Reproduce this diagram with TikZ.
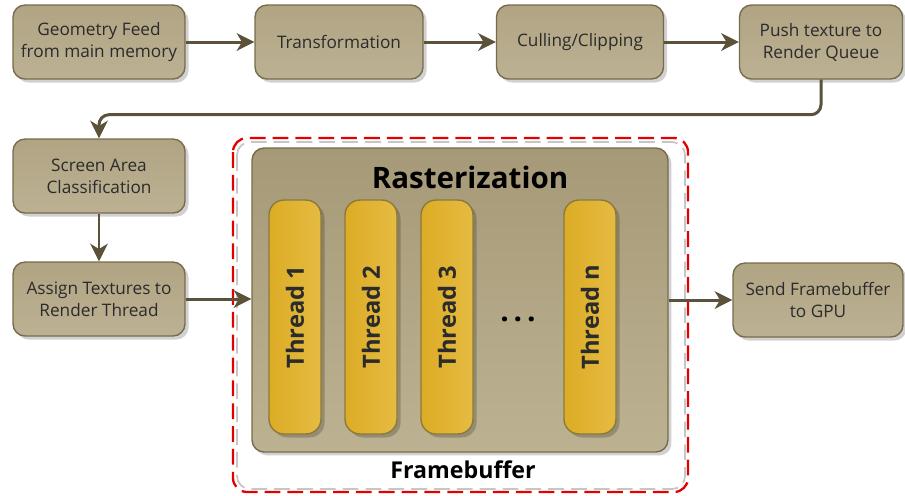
\documentclass[tikz,border=0pt]{standalone}
\usepackage{fontspec}
\setmainfont{Open Sans}
\usetikzlibrary{arrows.meta,positioning,shadows}
\definecolor{boxtop}{HTML}{B0A483}
\definecolor{boxbot}{HTML}{BCB193}
\definecolor{boxline}{HTML}{766B4C}
\definecolor{rastop}{HTML}{A69977}
\definecolor{rasbot}{HTML}{BCB292}
\definecolor{thrtop}{HTML}{DCAC25}
\definecolor{thrbot}{HTML}{E5BB42}
\definecolor{thrline}{HTML}{8C7A3C}
\definecolor{flowline}{HTML}{5B5239}
\definecolor{txt}{HTML}{2B2B2B}

\tikzset{
  stagebox/.style={draw=boxline,line width=0.8pt,rounded corners=0.24cm,
    top color=boxtop,bottom color=boxbot,text=txt,align=center,
    minimum width=3.44cm,minimum height=1.48cm,inner sep=1pt,
    font=\fontsize{9.8}{12.5}\selectfont,
    drop shadow={shadow xshift=2pt,shadow yshift=-2pt,fill=black,opacity=0.18}},
  threadbox/.style={draw=thrline,line width=0.8pt,rounded corners=0.3cm,
    left color=thrtop,right color=thrbot,text=txt,rotate=90,
    minimum width=4.68cm,minimum height=1.04cm,
    font=\fontsize{13.5}{16}\selectfont\bfseries,
    drop shadow={shadow xshift=2pt,shadow yshift=-2pt,fill=black,opacity=0.2}},
  flow/.style={draw=flowline,line width=1.7pt,-{Stealth[length=10pt,width=10pt,inset=3pt]}}
}

\begin{document}
\begin{tikzpicture}[x=0.02cm,y=-0.02cm]
  \useasboundingbox (0,0) rectangle (905,495);

  % top row
  \node[stagebox] (geo) at (99,42) {Geometry Feed\\from main memory};
  \node[stagebox,minimum width=3.36cm] (trans) at (339,42) {Transformation};
  \node[stagebox,minimum width=3.34cm] (cull) at (580,42) {Culling/Clipping};
  \node[stagebox,minimum width=3.26cm] (push) at (821,42) {Push texture to\\Render Queue};

  % left column
  \node[stagebox] (screen) at (99,176) {Screen Area\\Classification};
  \node[stagebox] (assign) at (99,299) {Assign Textures to\\Render Thread};
  \node[stagebox,minimum width=3.4cm] (send) at (818,300) {Send Framebuffer\\to GPU};

  % framebuffer outline
  \draw[gray!45,line width=1pt,dash pattern=on 9pt off 4pt,rounded corners=0.26cm]
    (237,142) rectangle (685,489);
  \draw[red!90!black,line width=1.3pt,dash pattern=on 9pt off 4pt,rounded corners=0.28cm]
    (233,138) rectangle (688,492);

  % rasterization block
  \node[draw=boxline,line width=0.8pt,rounded corners=0.24cm,
    top color=rastop,bottom color=rasbot,
    minimum width=8.32cm,minimum height=6.08cm,
    drop shadow={shadow xshift=2pt,shadow yshift=-2pt,fill=black,opacity=0.18}]
    (raster) at (460,300) {};
  \node[text=black,font=\fontsize{16.8}{19}\selectfont\bfseries] (rastitle) at (470,177) {Rasterization};

  \node[threadbox] (t1) at (295,317) {Thread 1};
  \node[threadbox] (t2) at (371,317) {Thread 2};
  \node[threadbox] (t3) at (447,317) {Thread 3};
  \node[threadbox] (tn) at (590,317) {Thread n};
  \node[text=black,font=\fontsize{17}{19}\selectfont\bfseries] (dots) at (518,319) {.\,.\,.};

  \node[text=black,font=\fontsize{13.2}{15}\selectfont\bfseries] (fbtitle) at (463,470) {Framebuffer};

  % connectors
  \draw[flow] (geo) -- (trans);
  \draw[flow] (trans) -- (cull);
  \draw[flow] (cull) -- (push);
  \draw[flow,rounded corners=0.2cm] (push.south) -- ++(0,35) -| (screen.north);
  \draw[flow] (screen) -- (assign);
  \draw[flow] (assign.east) -- (raster.west |- assign.east);
  \draw[flow] (raster.east |- send.west) -- (send.west);
\end{tikzpicture}
\end{document}
